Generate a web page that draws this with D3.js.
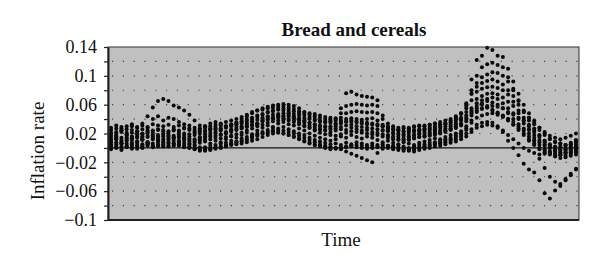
<!DOCTYPE html>
<html><head><meta charset="utf-8">
<script src="https://cdn.jsdelivr.net/npm/d3@7"></script>
<style>body{margin:0;background:#fff}</style>
</head><body><svg id="c" width="600" height="270"></svg>
<script>
// time index (months)
const timeIndex = d3.range(90);
const s1 = [.028,.031,.027,.030,.033,.029,.034,.044,.056,.065,
.068,.065,.059,.056,.052,.046,.038,.031,.030,.027,
.029,.031,.030,.033,.035,.037,.040,.042,.045,.047,
.050,.052,.054,.055,.053,.051,.048,.046,.043,.040,
.038,.037,.035,.033,.034,.036,.038,.037,.036,.035,
.034,.033,.030,.027,.025,.024,.022,.023,.025,.024,
.026,.027,.028,.030,.033,.035,.038,.042,.055,.075,
.090,.098,.102,.105,.104,.100,.092,.080,.065,.052,
.042,.033,.025,.018,.012,.008,.006,.004,.005,.008];
const s2 = [.020,.022,.024,.021,.025,.023,.026,.028,.040,.044,
.038,.042,.040,.036,.033,.031,.028,.027,.030,.034,
.036,.033,.030,.032,.035,.040,.044,.048,.052,.055,
.057,.059,.060,.061,.060,.058,.055,.050,.048,.047,
.045,.043,.042,.041,.055,.076,.078,.074,.072,.071,
.070,.066,.045,.034,.030,.028,.029,.027,.030,.031,
.030,.032,.034,.033,.035,.038,.042,.048,.062,.095,
.122,.128,.139,.136,.128,.126,.110,.092,.075,.060,
.048,.038,.028,.020,.013,.009,.006,.003,.005,.010];
const s3 = [.015,.017,.014,.018,.016,.020,.019,.022,.024,.026,
.025,.023,.026,.024,.027,.025,.022,.020,.022,.025,
.027,.026,.029,.031,.033,.036,.038,.040,.043,.046,
.049,.051,.053,.052,.050,.047,.045,.042,.040,.038,
.036,.035,.037,.040,.048,.058,.060,.061,.060,.059,
.060,.058,.040,.030,.026,.024,.023,.025,.024,.026,
.027,.029,.030,.032,.034,.036,.040,.047,.058,.080,
.100,.112,.116,.118,.115,.112,.098,.082,.066,.050,
.038,.027,.018,.010,.005,.002,.000,-.002,.000,.003];
const s4 = [.010,.012,.009,.013,.011,.014,.012,.015,.017,.016,
.018,.017,.015,.016,.014,.013,.012,.014,.016,.018,
.020,.019,.022,.024,.026,.028,.030,.032,.034,.038,
.040,.042,.044,.045,.044,.042,.040,.037,.035,.032,
.030,.029,.030,.034,.042,.048,.050,.051,.050,.049,
.050,.048,.032,.024,.020,.018,.017,.016,.018,.020,
.021,.022,.024,.025,.027,.030,.033,.038,.050,.066,
.078,.082,.084,.085,.083,.080,.074,.064,.052,.042,
.032,.024,.017,.010,.004,.000,-.003,-.004,-.002,.000];
const s5 = [.005,.008,.006,.010,.007,.009,.011,.008,.012,.010,
.012,.011,.013,.010,.012,.009,.008,.010,.011,.012,
.014,.013,.015,.017,.019,.021,.024,.027,.030,.032,
.035,.037,.038,.039,.038,.036,.033,.030,.028,.026,
.025,.024,.026,.030,.036,.040,.041,.040,.039,.040,
.041,.038,.024,.018,.014,.012,.011,.012,.014,.015,
.016,.017,.018,.020,.022,.025,.028,.033,.042,.055,
.062,.066,.068,.070,.068,.062,.055,.048,.040,.034,
.026,.018,.011,.005,.000,-.004,-.006,-.007,-.005,-.002];
const s6 = [.018,.020,.022,.019,.021,.023,.020,.024,.022,.025,
.023,.021,.024,.022,.020,.019,.021,.023,.024,.026,
.025,.027,.028,.030,.032,.034,.035,.037,.039,.042,
.044,.046,.047,.048,.046,.044,.041,.038,.035,.033,
.031,.030,.028,.027,.029,.031,.032,.030,.029,.028,
.027,.026,.025,.023,.021,.020,.019,.020,.022,.023,
.024,.025,.026,.028,.030,.032,.035,.040,.045,.048,
.052,.055,.056,.058,.057,.055,.050,.046,.042,.038,
.025,.010,-.015,-.028,-.040,-.047,-.053,-.045,-.038,-.030];
const s7 = [.003,.005,.002,.006,.004,.007,.005,.008,.006,.009,
.007,.008,.006,.009,.007,.005,.003,.001,-.002,-.003,
-.001,.002,.004,.006,.008,.010,.012,.015,.018,.020,
.022,.024,.025,.024,.022,.020,.017,.014,.011,.008,
.005,.003,.001,.000,-.002,-.005,-.008,-.011,-.014,-.017,
-.020,-.007,-.001,.002,.003,.001,-.001,-.003,-.002,.000,
.002,.004,.006,.008,.010,.012,.015,.018,.025,.035,
.042,.045,.047,.048,.046,.043,.038,.032,.025,.018,
.010,.004,-.002,-.006,-.009,-.012,-.014,-.013,-.011,-.009];
const s8 = [.000,.002,-.001,.003,.001,.004,.002,.005,.003,.004,
.005,.003,.006,.004,.002,.001,-.001,-.003,-.004,-.002,
.000,.001,.003,.005,.007,.009,.011,.014,.017,.020,
.021,.023,.022,.020,.018,.015,.012,.009,.006,.004,
.003,.002,.001,.000,.001,.002,.003,.004,.003,.002,
.003,.002,.001,.000,-.002,-.003,-.004,-.003,-.001,.001,
.002,.003,.005,.006,.008,.010,.012,.015,.020,.026,
.032,.035,.036,.035,.030,.022,.010,.000,-.010,-.022,
-.030,-.034,-.045,-.063,-.070,-.059,-.050,-.043,-.036,-.029];
const s9 = [-.002,.000,-.003,.001,-.001,.002,.000,.003,.001,.002,
.003,.002,.004,.003,.001,.000,-.002,-.004,-.003,-.001,
.001,.000,.002,.004,.005,.006,.008,.010,.012,.015,
.018,.020,.021,.020,.018,.016,.013,.010,.007,.004,
.002,.000,-.002,-.001,.000,.001,.002,.001,.000,-.001,
.000,.001,.002,.003,.002,.000,-.002,-.004,-.005,-.003,
-.001,.000,.002,.003,.005,.007,.009,.012,.016,.022,
.028,.030,.032,.031,.028,.024,.018,.012,.006,.000,
-.004,-.007,-.009,-.008,-.006,-.005,-.007,-.008,-.006,-.004];
const s10 = [.012,.014,.011,.015,.013,.016,.014,.017,.015,.018,
.016,.015,.017,.014,.013,.011,.010,.012,.014,.016,
.017,.018,.020,.022,.025,.027,.029,.031,.034,.037,
.039,.041,.042,.041,.040,.038,.035,.031,.028,.024,
.021,.019,.018,.017,.019,.021,.023,.022,.021,.020,
.019,.018,.016,.014,.012,.011,.010,.011,.013,.015,
.016,.018,.020,.022,.024,.027,.030,.034,.040,.050,
.058,.062,.065,.063,.060,.055,.048,.040,.033,.027,
.020,.014,.008,.003,.000,-.002,-.003,-.001,.002,.005];
const s11 = [.025,.027,.029,.026,.030,.028,.031,.029,.033,.031,
.030,.032,.029,.031,.028,.027,.025,.026,.028,.030,
.032,.034,.036,.038,.040,.043,.046,.050,.052,.053,
.055,.056,.057,.058,.056,.054,.051,.049,.046,.044,
.042,.040,.039,.038,.038,.037,.036,.035,.034,.033,
.032,.031,.030,.028,.027,.026,.027,.028,.029,.030,
.031,.032,.034,.036,.038,.040,.044,.048,.060,.075,
.085,.090,.093,.095,.092,.088,.080,.072,.060,.050,
.042,.035,.028,.022,.017,.014,.012,.014,.017,.020];
const s12 = [.008,.013,.006,.011,.015,.009,.012,.007,.014,.011,
.009,.013,.010,.007,.011,.006,.004,.007,.009,.006,
.010,.008,.012,.016,.014,.018,.021,.019,.024,.028,
.031,.029,.034,.036,.033,.031,.027,.024,.020,.017,
.014,.012,.010,.012,.016,.014,.018,.015,.013,.016,
.014,.011,.008,.010,.007,.005,.008,.006,.004,.007,
.009,.011,.013,.012,.015,.018,.020,.023,.030,.045,
.055,.060,.058,.052,.048,.044,.040,.036,.030,.024,
.016,.010,.004,-.002,-.005,-.008,-.010,-.006,-.003,.001];
const s13 = [.021,.016,.024,.018,.013,.019,.016,.021,.019,.013,
.020,.018,.014,.019,.017,.016,.018,.015,.019,.021,
.022,.024,.021,.026,.029,.030,.033,.036,.032,.040,
.043,.041,.045,.043,.048,.041,.038,.035,.031,.029,
.027,.025,.022,.024,.026,.025,.028,.026,.024,.025,
.022,.021,.019,.017,.016,.015,.013,.016,.017,.019,
.018,.020,.022,.021,.024,.026,.028,.031,.037,.052,
.068,.072,.075,.076,.074,.070,.064,.058,.048,.038,
.030,.022,.015,.008,.003,-.001,.002,.004,.007,.011];
const s14 = [.004,.001,.006,.002,.005,-.001,.003,.006,.002,.005,
.002,.006,.003,.005,.004,.002,.000,-.001,.001,.003,
.004,.006,.007,.010,.009,.013,.015,.017,.020,.022,
.025,.028,.027,.029,.026,.023,.020,.018,.014,.011,
.009,.007,.005,.006,.004,.007,.005,.008,.006,.004,
.006,.004,.005,.003,.001,.004,.002,.000,.002,.004,
.005,.007,.008,.010,.012,.014,.017,.020,.027,.038,
.050,.054,.056,.053,.049,.045,.040,.033,.027,.020,
.012,.006,.000,-.004,-.008,-.010,-.009,-.011,-.008,-.006];
const seriesList = [s1,s2,s3,s4,s5,s6,s7,s8,s9,s10,s11,s12,s13,s14];
const yTicks = [-0.1,-0.08,-0.06,-0.04,-0.02,0,0.02,0.04,0.06,0.08,0.1,0.12,0.14];
const yLabels = [0.14,0.1,0.06,0.02,-0.02,-0.06,-0.1];
const titleText = "Bread and cereals";
const xTitle = "Time";
const yTitle = "Inflation rate";

const svg = d3.select("#c");
const L = 108, R = 579, T = 47, B = 220;
const FONT = "'Liberation Serif', 'DejaVu Serif', serif";
const x = d3.scaleLinear().domain([0, 89]).range([111, 576]);
const y = d3.scaleLinear().domain([-0.1, 0.14]).range([B, T]);

svg.append("rect").attr("x", L).attr("y", T).attr("width", R - L).attr("height", B - T).attr("fill", "#c0c0c0");

svg.append("g").selectAll("line")
  .data(yTicks.filter(v => Math.abs(v) > 1e-9 && v > -0.099 && v < 0.139))
  .join("line")
  .attr("x1", L + 4).attr("x2", R).attr("y1", d => y(d)).attr("y2", d => y(d))
  .attr("stroke", "#444").attr("stroke-width", 1.2).attr("stroke-dasharray", "1.2,9.6");

svg.append("line").attr("x1", L).attr("x2", R).attr("y1", y(0)).attr("y2", y(0))
  .attr("stroke", "#111").attr("stroke-width", 1.3);

const pts = [];
seriesList.forEach((s, k) => s.forEach((v, i) => pts.push({t: timeIndex[i], v})));
svg.append("g").selectAll("circle").data(pts).join("circle")
  .attr("cx", d => x(d.t)).attr("cy", d => y(d.v)).attr("r", 2.0).attr("fill", "#0a0a0a");

// frame
svg.append("rect").attr("x", L).attr("y", T).attr("width", R - L).attr("height", B - T)
  .attr("fill", "none").attr("stroke", "#333").attr("stroke-width", 1);
svg.append("line").attr("x1", L).attr("x2", R).attr("y1", B).attr("y2", B).attr("stroke", "#222").attr("stroke-width", 2);

const fmt = d3.format(".2~f");
const ax = svg.append("g").attr("transform", `translate(${L},0)`)
  .call(d3.axisLeft(y).tickValues(yTicks).tickSize(4).tickSizeOuter(0).tickPadding(7)
    .tickFormat(d => yLabels.some(v => Math.abs(v - d) < 1e-9) ? fmt(d) : ""));
ax.select(".domain").attr("stroke", "#222").attr("stroke-width", 2);
ax.selectAll(".tick line").attr("stroke", "#222").attr("stroke-width", 1.2);
ax.selectAll("text").attr("font-family", FONT).attr("font-size", 18).attr("fill", "#111");

svg.append("text").attr("x", 354).attr("y", 36).attr("text-anchor", "middle")
  .attr("font-family", FONT).attr("font-weight", "bold").attr("font-size", 19).attr("fill", "#111").text(titleText);
svg.append("text").attr("x", 341).attr("y", 246).attr("text-anchor", "middle")
  .attr("font-family", FONT).attr("font-size", 19).attr("fill", "#111").text(xTitle);
svg.append("text").attr("transform", "translate(44,151) rotate(-90)").attr("text-anchor", "middle")
  .attr("font-family", FONT).attr("font-size", 19).attr("fill", "#111").text(yTitle);
</script>
</body></html>
